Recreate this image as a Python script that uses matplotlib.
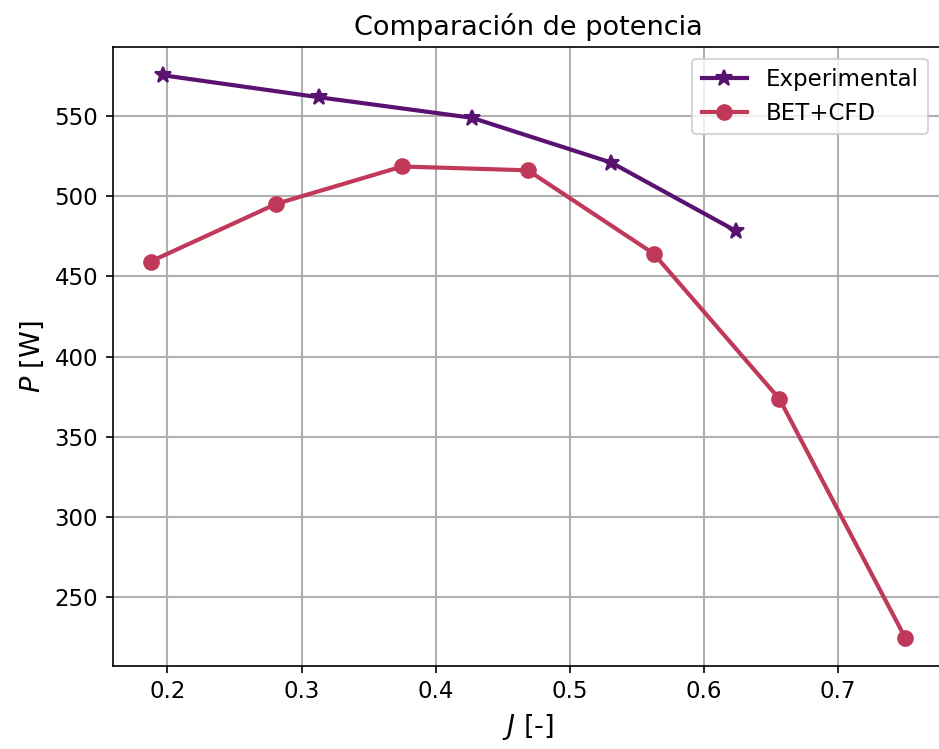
import matplotlib
matplotlib.use("Agg")
import matplotlib.pyplot as plt

# Advance ratio J and power P [W]
j_exp = [0.197, 0.313, 0.427, 0.531, 0.624]
p_exp = [575.5, 561.8, 549.0, 521.0, 478.3]

j_bet = [0.1875, 0.28125, 0.375, 0.46875, 0.5625, 0.65625, 0.75]
p_bet = [459.3, 495.3, 518.6, 516.2, 464.2, 373.5, 224.5]

c_exp = "#5a1270"
c_bet = "#c0395a"

fig = plt.figure(figsize=(939 / 150, 749 / 150), dpi=150)
ax = fig.add_axes([0.1202, 0.111, 0.8840, 0.826])

ax.plot(j_exp, p_exp, color=c_exp, marker="*", markersize=8, linewidth=2,
        label="Experimental")
ax.plot(j_bet, p_bet, color=c_bet, marker="o", markersize=7, linewidth=2,
        label="BET+CFD")

ax.grid(True, color="#b0b0b0", linewidth=1)
ax.set_axisbelow(True)
ax.spines["right"].set_visible(False)

ax.set_xticks([0.2, 0.3, 0.4, 0.5, 0.6, 0.7])
ax.set_yticks([250, 300, 350, 400, 450, 500, 550])
ax.tick_params(labelsize=11)

ax.set_xlabel(r"$J$ [-]", fontsize=13)
ax.set_ylabel(r"$P$ [W]", fontsize=13)
ax.set_title("Comparación de potencia", fontsize=13)
ax.legend(loc="upper right", fontsize=11, bbox_to_anchor=(0.9955, 1.0))

fig.savefig("out.png", dpi=150)
